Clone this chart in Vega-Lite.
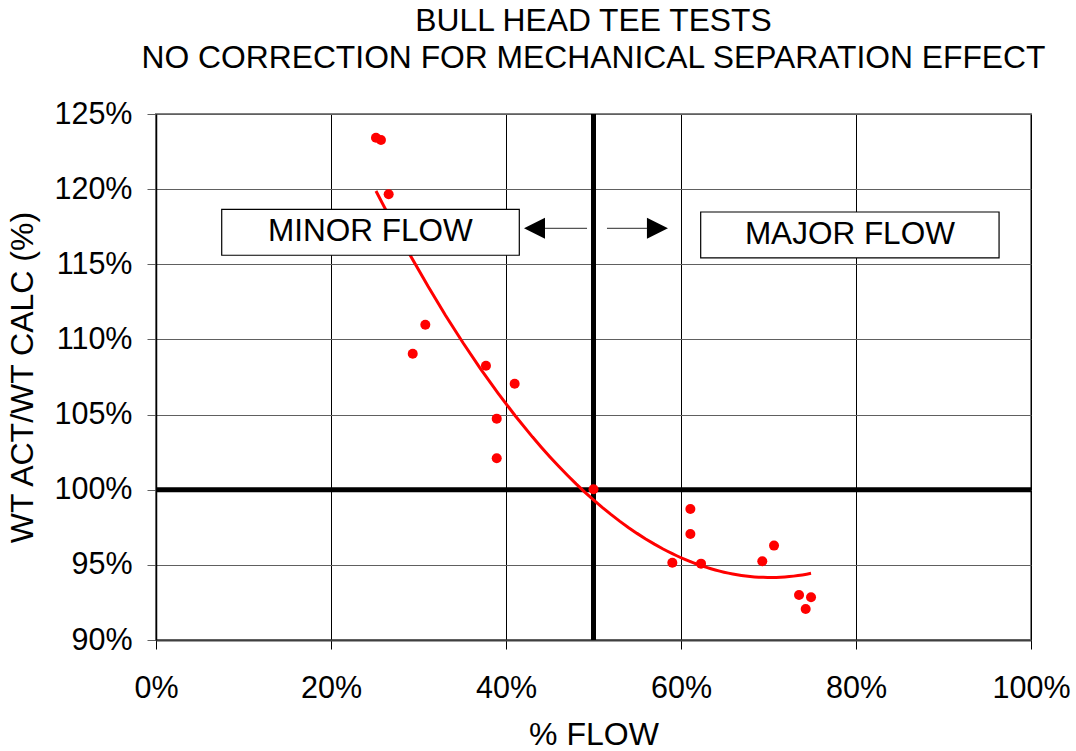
{
  "$schema": "https://vega.github.io/schema/vega-lite/v6.json",
  "width": 875,
  "height": 526,
  "autosize": {"type": "none"},
  "padding": {"left": 156, "top": 114, "right": 45, "bottom": 111},
  "background": "white",
  "config": {
    "font": "Liberation Sans",
    "view": {"stroke": "#808080", "strokeWidth": 2}
  },
  "title": {
    "text": ["BULL HEAD TEE TESTS", "NO CORRECTION FOR MECHANICAL SEPARATION EFFECT"],
    "fontSize": 31.8,
    "fontWeight": "normal",
    "font": "Liberation Sans",
    "color": "black",
    "lineHeight": 37,
    "anchor": "middle",
    "frame": "group",
    "offset": 24
  },
  "datasets": {
    "pts": [
      {"x": 25.14, "y": 123.42},
      {"x": 25.71, "y": 123.27},
      {"x": 26.59, "y": 119.66},
      {"x": 30.78, "y": 110.98},
      {"x": 29.34, "y": 109.05},
      {"x": 37.71, "y": 108.25},
      {"x": 40.99, "y": 107.05},
      {"x": 38.94, "y": 104.73},
      {"x": 38.94, "y": 102.09},
      {"x": 50.0, "y": 100.03},
      {"x": 61.07, "y": 98.72},
      {"x": 61.07, "y": 97.05},
      {"x": 59.01, "y": 95.14},
      {"x": 62.29, "y": 95.08},
      {"x": 69.29, "y": 95.24},
      {"x": 70.63, "y": 96.28},
      {"x": 73.49, "y": 93.0},
      {"x": 74.86, "y": 92.84},
      {"x": 74.25, "y": 92.06}
    ],
    "axes": [
      {"x": 50, "y": 90, "x2": 50, "y2": 125},
      {"x": 0, "y": 100, "x2": 100, "y2": 100}
    ],
    "boxes": [
      {"x": 7.51, "x2": 41.52, "y": 118.66, "y2": 115.6, "xc": 24.51, "yc": 117.13, "label": "MINOR FLOW"},
      {"x": 62.25, "x2": 96.35, "y": 118.48, "y2": 115.42, "xc": 79.3, "yc": 116.95, "label": "MAJOR FLOW"}
    ],
    "arrows": [
      {"x": 49.26, "x2": 44.46, "y": 117.39, "y2": 117.39},
      {"x": 51.54, "x2": 56.11, "y": 117.39, "y2": 117.39}
    ],
    "heads": [
      {"x": 43.26, "y": 117.39, "dir": "L"},
      {"x": 57.31, "y": 117.39, "dir": "R"}
    ]
  },
  "encoding": {
    "x": {
      "field": "x",
      "type": "quantitative",
      "title": "% FLOW",
      "scale": {"domain": [0, 100], "nice": false, "zero": false},
      "axis": {
        "values": [0, 20, 40, 60, 80, 100],
        "labelExpr": "datum.value + '%'",
        "labelFontSize": 30.5,
        "labelColor": "black",
        "labelPadding": 24,
        "labelFlush": false,
        "titleFontSize": 32,
        "titleFontWeight": "normal",
        "titleColor": "black",
        "titlePadding": 16,
        "grid": true,
        "gridColor": "#000000",
        "gridWidth": 1,
        "gridOpacity": 1,
        "tickColor": "#000000",
        "tickSize": 9,
        "tickWidth": 1,
        "domainColor": "#404040",
        "domainWidth": 2
      }
    },
    "y": {
      "field": "y",
      "type": "quantitative",
      "title": "WT ACT/WT CALC (%)",
      "scale": {"domain": [90, 125], "nice": false, "zero": false},
      "axis": {
        "values": [90, 95, 100, 105, 110, 115, 120, 125],
        "labelExpr": "datum.value + '%'",
        "labelFontSize": 30.5,
        "labelColor": "black",
        "labelPadding": 15,
        "labelFlush": false,
        "titleFontSize": 32,
        "titleFontWeight": "normal",
        "titleColor": "black",
        "titlePadding": 14,
        "grid": true,
        "gridColor": "#606060",
        "gridWidth": 1,
        "gridOpacity": 1,
        "tickColor": "#606060",
        "tickSize": 9,
        "tickWidth": 1,
        "domainColor": "#000000",
        "domainWidth": 1.5
      }
    }
  },
  "layer": [
    {
      "data": {"name": "axes"},
      "mark": {"type": "rule", "color": "black", "strokeWidth": 5},
      "encoding": {"x2": {"field": "x2"}, "y2": {"field": "y2"}}
    },
    {
      "data": {"name": "pts"},
      "transform": [{"regression": "y", "on": "x", "method": "poly", "order": 2}],
      "mark": {"type": "line", "color": "#FF0000", "strokeWidth": 3}
    },
    {
      "data": {"name": "pts"},
      "mark": {"type": "point", "filled": true, "color": "#FF0000", "opacity": 1, "size": 100, "shape": "circle"}
    },
    {
      "data": {"name": "boxes"},
      "mark": {"type": "rect", "fill": "white", "stroke": "black", "strokeWidth": 1.2},
      "encoding": {"x2": {"field": "x2"}, "y2": {"field": "y2"}}
    },
    {
      "data": {"name": "boxes"},
      "mark": {"type": "text", "fontSize": 31.5, "color": "black", "align": "center", "baseline": "middle"},
      "encoding": {
        "x": {"field": "xc", "type": "quantitative"},
        "y": {"field": "yc", "type": "quantitative"},
        "text": {"field": "label"}
      }
    },
    {
      "data": {"name": "arrows"},
      "mark": {"type": "rule", "color": "#555555", "strokeWidth": 1.2},
      "encoding": {"x2": {"field": "x2"}, "y2": {"field": "y2"}}
    },
    {
      "data": {"name": "heads"},
      "mark": {"type": "point", "filled": true, "color": "black", "opacity": 1, "size": 441},
      "encoding": {
        "shape": {
          "field": "dir",
          "type": "nominal",
          "scale": {"domain": ["L", "R"], "range": ["M 1 -1 L -1 0 L 1 1 Z", "M -1 -1 L 1 0 L -1 1 Z"]},
          "legend": null
        }
      }
    }
  ]
}
